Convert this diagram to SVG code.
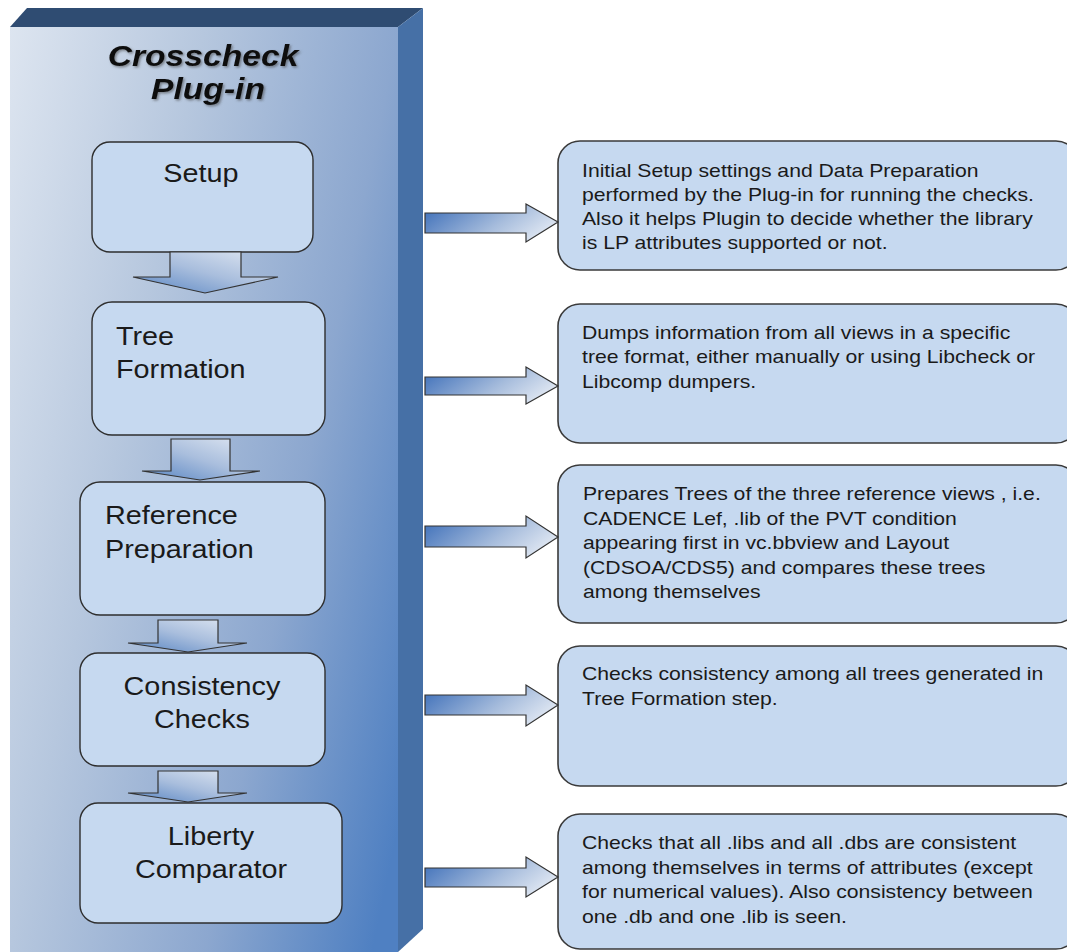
<svg xmlns="http://www.w3.org/2000/svg" width="1067" height="952" viewBox="0 0 1067 952">
  <defs>
    <linearGradient id="panelFace" gradientUnits="userSpaceOnUse" x1="10" y1="27" x2="543" y2="139">
      <stop offset="0" stop-color="#dde5f0"/>
      <stop offset="0.35" stop-color="#b6c7de"/>
      <stop offset="0.7" stop-color="#8ca7cf"/>
      <stop offset="1" stop-color="#4f80c2"/>
    </linearGradient>
    <linearGradient id="downFill" x1="1" y1="0" x2="0" y2="1">
      <stop offset="0" stop-color="#e2e9f3"/>
      <stop offset="0.5" stop-color="#a9bedd"/>
      <stop offset="1" stop-color="#5583c2"/>
    </linearGradient>
    <linearGradient id="rightFill" x1="0" y1="0.3" x2="1" y2="0.7">
      <stop offset="0" stop-color="#4a78bd"/>
      <stop offset="0.55" stop-color="#a6bcdc"/>
      <stop offset="1" stop-color="#e6ecf5"/>
    </linearGradient>
    <filter id="titleShadow" x="-10%" y="-20%" width="130%" height="150%">
      <feDropShadow dx="1.5" dy="1.5" stdDeviation="1" flood-color="#404040" flood-opacity="0.55"/>
    </filter>
  </defs>
  <style>
    .step { fill: #c6d9f0; stroke: #2e2e2e; stroke-width: 1.4; }
    .note { fill: #c6d9f0; stroke: #3a3a3a; stroke-width: 1.6; }
    .down { fill: url(#downFill); stroke: #333; stroke-width: 1.2; stroke-linejoin: miter; }
    .right { fill: url(#rightFill); stroke: #333; stroke-width: 1.2; stroke-linejoin: miter; }
    .label { font-family: "Liberation Sans", Arial, sans-serif; font-size: 25.5px; fill: #1a1a1a; }
    .mid { text-anchor: middle; }
    .desc { font-family: "Liberation Sans", Arial, sans-serif; font-size: 19px; fill: #1a1a1a; }
    .title { font-family: "Liberation Sans", Arial, sans-serif; font-size: 29px; font-weight: bold; font-style: italic; fill: #111; text-anchor: middle; }
  </style>

  <!-- 3D panel holding the plug-in steps -->
  <g id="panel">
    <polygon points="10,27 27,8 423,8 398,27" fill="#2f4c72"/>
    <polygon points="398,27 423,8 423,929 398,952" fill="#4670a6"/>
    <rect x="10" y="27" width="388" height="925" fill="url(#panelFace)"/>
    <g filter="url(#titleShadow)">
      <text class="title" transform="translate(203,66) scale(1.16,1)">Crosscheck</text>
      <text class="title" transform="translate(208,99) scale(1.16,1)">Plug-in</text>
    </g>
  </g>

  <!-- Steps -->
  <g id="step-setup">
    <rect class="step" x="92" y="142" width="221" height="110" rx="18"/>
    <text class="label mid" transform="translate(201,182) scale(1.13,1)">Setup</text>
  </g>
  <g id="step-tree">
    <rect class="step" x="92" y="302" width="233" height="133" rx="20"/>
    <text class="label" transform="translate(116,345) scale(1.13,1)">Tree</text>
    <text class="label" transform="translate(116,378) scale(1.13,1)">Formation</text>
  </g>
  <g id="step-reference">
    <rect class="step" x="80" y="482" width="245" height="133" rx="20"/>
    <text class="label" transform="translate(105,524) scale(1.13,1)">Reference</text>
    <text class="label" transform="translate(105,558) scale(1.13,1)">Preparation</text>
  </g>
  <g id="step-consistency">
    <rect class="step" x="80" y="653" width="245" height="113" rx="18"/>
    <text class="label mid" transform="translate(202,695) scale(1.13,1)">Consistency</text>
    <text class="label mid" transform="translate(202,728) scale(1.13,1)">Checks</text>
  </g>
  <g id="step-liberty">
    <rect class="step" x="80" y="803" width="262" height="120" rx="18"/>
    <text class="label mid" transform="translate(211,845) scale(1.13,1)">Liberty</text>
    <text class="label mid" transform="translate(211,878) scale(1.13,1)">Comparator</text>
  </g>

  <!-- Descriptions -->
  <g id="note-setup">
    <rect class="note" x="558" y="141" width="520" height="129" rx="22"/>
    <g class="desc" transform="translate(582,0) scale(1.115,1)">
      <text x="0" y="177">Initial Setup settings and Data Preparation</text>
      <text x="0" y="201">performed by the Plug-in for running the checks.</text>
      <text x="0" y="225">Also it helps Plugin to decide whether the library</text>
      <text x="0" y="249">is LP attributes supported or not.</text>
    </g>
  </g>
  <g id="note-tree">
    <rect class="note" x="558" y="304" width="520" height="139" rx="22"/>
    <g class="desc" transform="translate(582,0) scale(1.115,1)">
      <text x="0" y="339">Dumps information from all views in a specific</text>
      <text x="0" y="363">tree format, either manually or using Libcheck or</text>
      <text x="0" y="388">Libcomp dumpers.</text>
    </g>
  </g>
  <g id="note-reference">
    <rect class="note" x="558" y="465" width="520" height="158" rx="22"/>
    <g class="desc" transform="translate(583,0) scale(1.115,1)">
      <text x="0" y="500">Prepares Trees of the three reference views , i.e.</text>
      <text x="0" y="525">CADENCE Lef, .lib of the PVT condition</text>
      <text x="0" y="549">appearing first in vc.bbview and Layout</text>
      <text x="0" y="574">(CDSOA/CDS5) and compares these trees</text>
      <text x="0" y="598">among themselves</text>
    </g>
  </g>
  <g id="note-consistency">
    <rect class="note" x="558" y="646" width="520" height="140" rx="22"/>
    <g class="desc" transform="translate(582,0) scale(1.115,1)">
      <text x="0" y="680">Checks consistency among all trees generated in</text>
      <text x="0" y="705">Tree Formation step.</text>
    </g>
  </g>
  <g id="note-liberty">
    <rect class="note" x="558" y="814" width="520" height="135" rx="22"/>
    <g class="desc" transform="translate(582,0) scale(1.115,1)">
      <text x="0" y="849">Checks that all .libs and all .dbs are consistent</text>
      <text x="0" y="874">among themselves in terms of attributes (except</text>
      <text x="0" y="898">for numerical values). Also consistency between</text>
      <text x="0" y="923">one .db and one .lib is seen.</text>
    </g>
  </g>

  <!-- Block-arrow connectors -->
  <g id="connectors">
    <polygon class="down" points="170,252 241,252 241,277 278,277 205,293 133,277 170,277"/>
    <polygon class="down" points="171,439 230,439 230,471 260,471 200,480 142,471 171,471"/>
    <polygon class="down" points="158,620 218,620 218,643 247,643 188,652 128,643 158,643"/>
    <polygon class="down" points="158,771 218,771 218,793 247,793 188,802 128,793 158,793"/>

    <polygon class="right" points="425,213 526,213 526,204 558,222 526,242 526,233 425,233"/>
    <polygon class="right" points="425,377 526,377 526,367 558,386 526,404 526,395 425,395"/>
    <polygon class="right" points="425,526 526,526 526,516 558,537 526,558 526,547 425,547"/>
    <polygon class="right" points="425,695 526,695 526,685 558,705 526,726 526,715 425,715"/>
    <polygon class="right" points="425,868 526,868 526,857 558,877 526,897 526,887 425,887"/>
  </g>
</svg>
